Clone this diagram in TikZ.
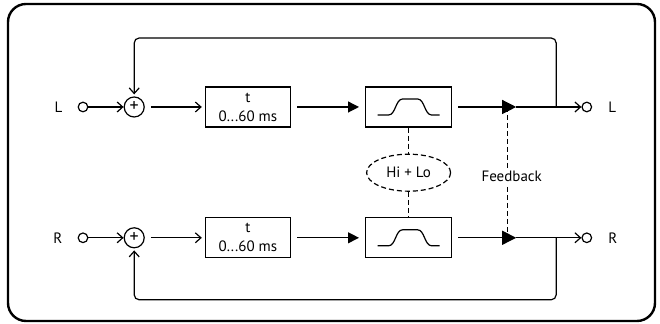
\documentclass[tikz,border=0pt]{standalone}
\usepackage{fontspec}
\setmainfont{PT Sans}
\usetikzlibrary{arrows.meta,positioning,shapes.geometric,calc}

\begin{document}
\begin{tikzpicture}[
x=0.5pt,y=-0.5pt,
font=\fontsize{7.5}{9.5}\selectfont,
line width=0.6pt,
port/.style={draw,circle,minimum size=4.8pt,inner sep=0pt},
sumnode/.style={draw,circle,minimum size=10pt,inner sep=0pt,font=\fontsize{9}{9}\selectfont},
delaybox/.style={draw,align=center,minimum width=42.5pt,minimum height=20pt,inner sep=1pt},
filtbox/.style={draw,minimum width=43pt,minimum height=20pt},
dsh/.style={dash pattern=on 2.5pt off 1.5pt},
eqnode/.style={draw,ellipse,dsh,minimum width=42pt,minimum height=18.5pt,inner sep=0pt},
arr/.style={-{Straight Barb[length=2.8pt,width=5pt]}},
farr/.style={-{Triangle[length=5.5pt,width=5.5pt]}},
fbarr/.style={-{Triangle[length=7pt,width=7pt]}}
]
\useasboundingbox (0,0) rectangle (660,324);
\draw[line width=1.2pt,rounded corners=9pt] (8,4) rectangle (655,321);

% left channel
\node[port] (inL) at (83,107) {};
\node[left=4pt of inL] (labInL) {L};
\node[sumnode,right=17.6pt of inL] (sumL) {+};
\node[delaybox,right=30pt of sumL] (delayL) {t\\0...60 ms};
\node[filtbox,right=37pt of delayL] (filtL) {};
\coordinate[right=32pt of filtL] (tipL);
\coordinate[right=20pt of tipL] (brL);
\node[port,right=32.6pt of tipL] (outL) {};
\node[right=4.5pt of outL] (labOutL) {L};

% right channel
\node[port,below=60pt of inL] (inR) {};
\node[left=4pt of inR] (labInR) {R};
\node[sumnode,right=17.6pt of inR] (sumR) {+};
\node[delaybox,right=30pt of sumR] (delayR) {t\\0...60 ms};
\node[filtbox,right=37pt of delayR] (filtR) {};
\coordinate[right=32pt of filtR] (tipR);
\coordinate[right=20pt of tipR] (brR);
\node[port,right=32.6pt of tipR] (outR) {};
\node[right=4.5pt of outR] (labOutR) {R};

\node[eqnode,below=13pt of filtL] (eq) {Hi + Lo};

% band curves
\draw[shift={(filtL.center)}] (-31,8) -- (-20,8) .. controls (-13,8) and (-13,-8) .. (-6,-8) -- (9,-8) .. controls (16,-8) and (16,8) .. (23,8) -- (31,8);
\draw[shift={(filtR.center)}] (-31,8) -- (-20,8) .. controls (-13,8) and (-13,-8) .. (-6,-8) -- (9,-8) .. controls (16,-8) and (16,8) .. (23,8) -- (31,8);

% signal flow
\draw[arr] (inL) -- (sumL);
\draw[arr,shorten <=3pt,shorten >=1.5pt] (sumL) -- (delayL);
\draw[farr,shorten <=3pt,shorten >=3pt] (delayL) -- (filtL);
\draw[fbarr,shorten <=3pt] (filtL) -- (tipL);
\draw[arr] (tipL) -- (outL);
\draw[arr] (inR) -- (sumR);
\draw[arr,shorten <=3pt,shorten >=1.5pt] (sumR) -- (delayR);
\draw[farr,shorten <=3pt,shorten >=3pt] (delayR) -- (filtR);
\draw[fbarr,shorten <=3pt] (filtR) -- (tipR);
\draw[arr] (tipR) -- (outR);

% feedback loops
\draw[arr,rounded corners=2.5pt,shorten >=1pt] (brL) -- ([yshift=34.5pt]brL) -| (sumL);
\draw[arr,rounded corners=2.5pt,shorten >=1pt] (brR) -- ([yshift=-31pt]brR) -| (sumR);

% controls
\draw[dsh] (filtL) -- (eq);
\draw[dsh] (eq) -- (filtR);
\draw[dsh] ([xshift=-4.5pt]tipL) -- ([xshift=-4.5pt]tipR);
\node[fill=white,inner sep=1.5pt,xshift=-2.25pt,yshift=-2pt] (fbk) at ($(tipL)!0.5!(tipR)$) {Feedback};
\end{tikzpicture}
\end{document}
